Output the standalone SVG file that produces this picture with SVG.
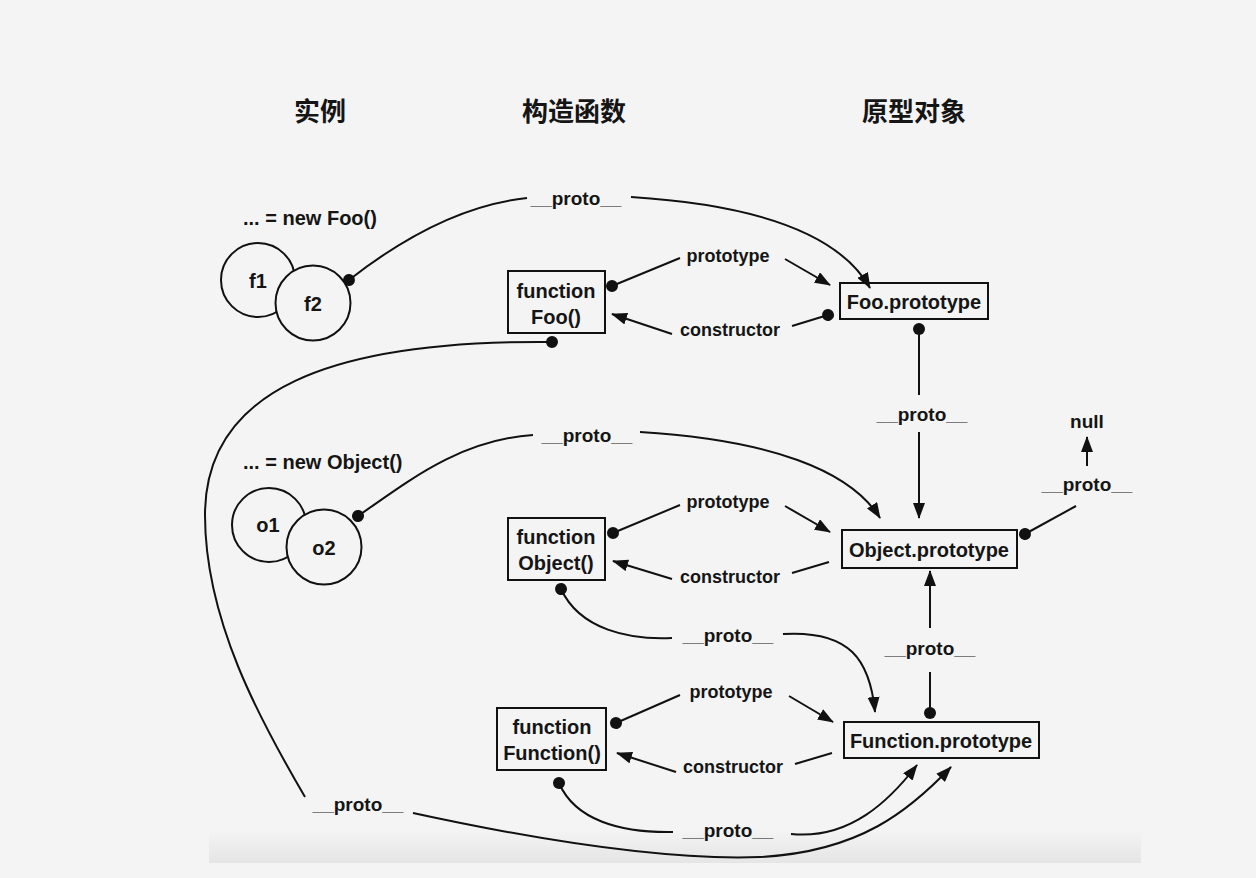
<svg xmlns="http://www.w3.org/2000/svg" width="1256" height="878" viewBox="0 0 1256 878">
<defs>
<linearGradient id="band" x1="0" y1="0" x2="0" y2="1">
<stop offset="0" stop-color="#f4f4f4"/>
<stop offset="1" stop-color="#e5e5e5"/>
</linearGradient>
<marker id="arr" markerUnits="userSpaceOnUse" markerWidth="16" markerHeight="12" viewBox="0 0 16 12" refX="15" refY="6" orient="auto">
<path d="M0,0 L16,6 L0,12 Z" fill="#111"/>
</marker>
<marker id="dot" markerUnits="userSpaceOnUse" markerWidth="14" markerHeight="14" viewBox="0 0 14 14" refX="7" refY="7" orient="auto">
<circle cx="7" cy="7" r="6" fill="#111"/>
</marker>
</defs>
<style>
text{font-family:"Liberation Sans","Noto Sans CJK SC",sans-serif;font-weight:bold;fill:#151515;}
.h{font-size:26px;text-anchor:middle;font-family:"Noto Sans CJK SC","Liberation Sans",sans-serif;}
.lbl{font-size:18px;text-anchor:middle;}
.pr{font-size:19px;text-anchor:middle;}
.box text{font-size:20px;text-anchor:middle;}
.inst{font-size:20px;}
.circ{fill:#f4f4f4;stroke:#111;stroke-width:2;}
.box rect{fill:none;stroke:#111;stroke-width:2;}
.c path{fill:none;stroke:#111;stroke-width:2;}
.cc text{font-size:20px;text-anchor:middle;}
</style>
<rect width="1256" height="878" fill="#f4f4f4"/>
<rect x="209" y="830" width="932" height="33" fill="url(#band)"/>

<g id="headers">
<text class="h" x="320" y="121">实例</text>
<text class="h" x="574" y="121">构造函数</text>
<text class="h" x="914" y="121">原型对象</text>
</g>

<g id="foo-instances" class="cc">
<text class="inst" x="243" y="225" style="text-anchor:start">... = new Foo()</text>
<circle class="circ" cx="258" cy="280" r="37"/>
<circle class="circ" cx="313" cy="303" r="37.5"/>
<text x="258" y="288">f1</text>
<text x="313" y="311">f2</text>
</g>

<g id="object-instances" class="cc">
<text class="inst" x="243" y="469" style="text-anchor:start">... = new Object()</text>
<circle class="circ" cx="269" cy="525" r="37"/>
<circle class="circ" cx="324" cy="547" r="37.5"/>
<text x="268" y="532">o1</text>
<text x="324" y="555">o2</text>
</g>

<g id="fn-foo" class="box">
<rect x="508" y="271" width="97" height="62"/>
<text x="556" y="298">function</text>
<text x="556" y="324">Foo()</text>
</g>

<g id="fn-object" class="box">
<rect x="508" y="518" width="97" height="62"/>
<text x="556" y="544">function</text>
<text x="556" y="570">Object()</text>
</g>

<g id="fn-function" class="box">
<rect x="497" y="708" width="109" height="62"/>
<text x="552" y="734">function</text>
<text x="552" y="760">Function()</text>
</g>

<g id="foo-prototype" class="box">
<rect x="840" y="283" width="148" height="36"/>
<text x="914" y="309">Foo.prototype</text>
</g>

<g id="object-prototype" class="box">
<rect x="842" y="530" width="175" height="38"/>
<text x="929" y="557">Object.prototype</text>
</g>

<g id="function-prototype" class="box">
<rect x="844" y="722" width="195" height="36"/>
<text x="941" y="748">Function.prototype</text>
</g>

<g id="null">
<text class="lbl" x="1087" y="428" style="font-size:19px">null</text>
</g>

<g id="connectors" class="c">
<path d="M349,280 C400,240 460,205 527,198" marker-start="url(#dot)"/>
<path d="M631,197 C760,205 840,235 870,288" marker-end="url(#arr)"/>
<path d="M680,258 L612,286" marker-end="url(#dot)"/>
<path d="M785,259 L830,285" marker-end="url(#arr)"/>
<path d="M792,326 L828,315" marker-end="url(#dot)"/>
<path d="M672,334 L612,314" marker-end="url(#arr)"/>
<path d="M919,329 L919,395" marker-start="url(#dot)"/>
<path d="M919,432 L919,518" marker-end="url(#arr)"/>
<path d="M358,516 C410,480 460,440 533,435" marker-start="url(#dot)"/>
<path d="M640,432 C770,440 850,470 880,518" marker-end="url(#arr)"/>
<path d="M680,505 L613,533" marker-end="url(#dot)"/>
<path d="M785,506 L830,532" marker-end="url(#arr)"/>
<path d="M829,562 L792,573"/>
<path d="M672,579 L613,561" marker-end="url(#arr)"/>
<path d="M1076,506 L1025,534" marker-end="url(#dot)"/>
<path d="M1087,466 L1087,437" marker-end="url(#arr)"/>
<path d="M561,589 C580,630 630,640 672,638" marker-start="url(#dot)"/>
<path d="M783,634 C850,630 870,660 875,712" marker-end="url(#arr)"/>
<path d="M930,713 L930,672" marker-start="url(#dot)"/>
<path d="M930,628 L930,571" marker-end="url(#arr)"/>
<path d="M680,695 L616,723" marker-end="url(#dot)"/>
<path d="M789,696 L833,722" marker-end="url(#arr)"/>
<path d="M832,753 L795,764"/>
<path d="M676,772 L617,753" marker-end="url(#arr)"/>
<path d="M559,783 C575,820 620,833 673,832" marker-start="url(#dot)"/>
<path d="M791,834 C850,840 890,800 917,765" marker-end="url(#arr)"/>
<path d="M552,342 C330,340 205,390 205,515 C205,620 260,720 305,797" marker-start="url(#dot)"/>
<path d="M413,813 C560,845 680,860 760,857 C860,852 910,810 951,767" marker-end="url(#arr)"/>
</g>

<g id="connector-labels">
<text class="pr" x="576" y="205">__proto__</text>
<text class="lbl" x="728" y="262">prototype</text>
<text class="lbl" x="730" y="336">constructor</text>
<text class="pr" x="922" y="421">__proto__</text>
<text class="pr" x="1087" y="491">__proto__</text>
<text class="pr" x="587" y="442">__proto__</text>
<text class="lbl" x="728" y="508">prototype</text>
<text class="lbl" x="730" y="583">constructor</text>
<text class="pr" x="728" y="642">__proto__</text>
<text class="pr" x="930" y="655">__proto__</text>
<text class="lbl" x="731" y="698">prototype</text>
<text class="lbl" x="733" y="773">constructor</text>
<text class="pr" x="728" y="837">__proto__</text>
<text class="pr" x="358" y="811">__proto__</text>
</g>
</svg>
